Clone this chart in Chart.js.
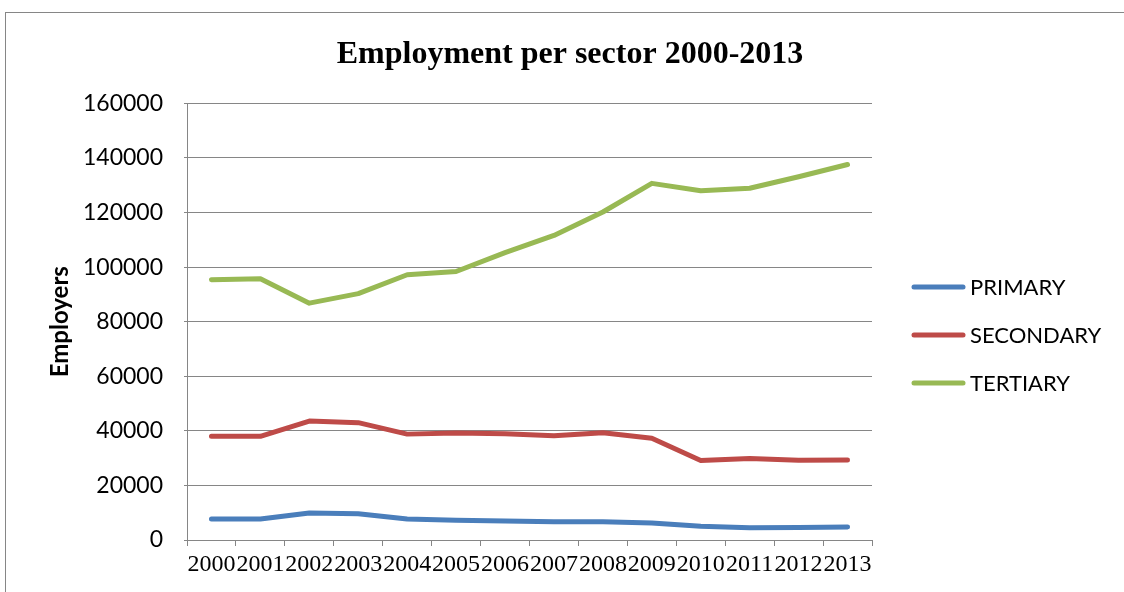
<!DOCTYPE html>
<html>
<head>
<meta charset="utf-8">
<script src="https://cdn.jsdelivr.net/npm/chart.js@4.4.1/dist/chart.umd.min.js"></script>
<style>
  html, body { margin: 0; padding: 0; background: #ffffff; }
  #wrap { width: 1124px; height: 592px; position: relative; }
</style>
</head>
<body>
<div id="wrap"><canvas id="chart" width="1124" height="592"></canvas></div>
<script>
// Employment figures by sector, 2000-2013
const years = ['2000','2001','2002','2003','2004','2005','2006','2007','2008','2009','2010','2011','2012','2013'];
const primary   = [7700, 7700, 9900, 9600, 7700, 7200, 7000, 6700, 6700, 6200, 5000, 4500, 4600, 4800];
const secondary = [38000, 38000, 43600, 43000, 38800, 39200, 38900, 38200, 39300, 37300, 29100, 29900, 29200, 29300];
const tertiary  = [95400, 95700, 86800, 90300, 97200, 98400, 105300, 111600, 120200, 130700, 128000, 128900, 133100, 137600];
const yTicks    = [0, 20000, 40000, 60000, 80000, 100000, 120000, 140000, 160000];

const seriesNames  = ['PRIMARY', 'SECONDARY', 'TERTIARY'];
const seriesColors = ['#4a7ebb', '#be4b48', '#98b954'];
const seriesData   = [primary, secondary, tertiary];

// outer frame around the chart
const framePlugin = {
  id: 'frame',
  beforeDraw(chart) {
    const ctx = chart.ctx;
    ctx.save();
    ctx.fillStyle = '#ffffff';
    ctx.fillRect(0, 0, chart.width, chart.height);
    ctx.strokeStyle = '#868686';
    ctx.lineWidth = 1;
    ctx.strokeRect(5.5, 12.5, chart.width + 10, chart.height + 10);
    ctx.restore();
  }
};

// legend on the right: a short thick line followed by the series name
const sideLegend = {
  id: 'sideLegend',
  afterDraw(chart) {
    const ctx = chart.ctx;
    const x0 = chart.chartArea.right + 42;
    const midY = 335;
    const gap = 48;
    ctx.save();
    chart.data.datasets.forEach((ds, i) => {
      const y = midY + (i - 1) * gap;
      ctx.strokeStyle = ds.borderColor;
      ctx.lineWidth = 5;
      ctx.lineCap = 'round';
      ctx.beginPath();
      ctx.moveTo(x0, y);
      ctx.lineTo(x0 + 49, y);
      ctx.stroke();
      ctx.fillStyle = '#000000';
      ctx.font = '22px Lato';
      ctx.textBaseline = 'middle';
      ctx.textAlign = 'left';
      ctx.fillText(ds.label, x0 + 56, y + 1);
    });
    ctx.restore();
  }
};

new Chart(document.getElementById('chart'), {
  type: 'line',
  data: {
    labels: years,
    datasets: seriesData.map((d, i) => ({
      label: seriesNames[i],
      data: d,
      yAxisID: 'y',
      borderColor: seriesColors[i],
      backgroundColor: seriesColors[i],
      borderWidth: 5,
      borderJoinStyle: 'round',
      borderCapStyle: 'round',
      pointRadius: 0,
      tension: 0
    }))
  },
  options: {
    responsive: false,
    animation: false,
    layout: { padding: { left: 16, right: 0, top: 0, bottom: 0 } },
    plugins: {
      legend: { display: false },
      tooltip: { enabled: false },
      title: {
        display: true,
        text: 'Employment per sector 2000-2013',
        color: '#000000',
        font: { family: 'Liberation Serif', size: 32, weight: 'bold' },
        padding: { top: 36, bottom: 29 }
      }
    },
    scales: {
      x: {
        type: 'category',
        offset: true,
        grid: {
          offset: true,
          drawOnChartArea: false,
          drawTicks: true,
          tickLength: 6,
          color: '#868686'
        },
        border: { color: '#868686', width: 1 },
        ticks: {
          autoSkip: false,
          maxRotation: 0,
          minRotation: 0,
          padding: 4,
          color: '#000000',
          font: { family: 'Liberation Serif', size: 24 }
        },
        afterFit(scale) { scale.height = 52; }
      },
      y: {
        min: 0,
        max: 160000,
        afterBuildTicks(scale) { scale.ticks = yTicks.map(v => ({ value: v })); },
        grid: {
          color: '#868686',
          lineWidth: 1,
          tickLength: 3
        },
        border: { color: '#868686', width: 1 },
        ticks: {
          padding: 21,
          color: '#000000',
          font: { family: 'Lato', size: 23 },
          callback: v => String(v)
        },
        title: {
          display: true,
          text: 'Employers',
          color: '#000000',
          font: { family: 'Lato', size: 24, weight: 'bold' },
          padding: { top: 30, bottom: 0 }
        },
        afterFit(scale) { scale.width = 171; }
      },
      // empty band on the right that holds the legend
      legendSpace: {
        position: 'right',
        display: true,
        grid: { display: false, drawTicks: false },
        border: { display: false },
        ticks: { display: false },
        afterFit(scale) { scale.width = 252; }
      }
    }
  },
  plugins: [framePlugin, sideLegend]
});
</script>
</body>
</html>
